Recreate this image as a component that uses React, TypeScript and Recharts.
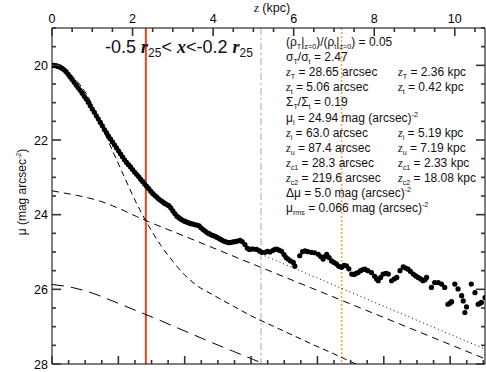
import React from 'react';
import { ComposedChart, XAxis, YAxis, Line, Scatter, ReferenceLine } from 'recharts';

// observed vertical profile: [z (kpc), mu (mag arcsec^-2)]
const profile: [number, number][] = [
  [0.0, 20.0], [0.05, 20.0], [0.1, 20.01], [0.15, 20.03], [0.2, 20.05], [0.25, 20.08], [0.3, 20.12], [0.35, 20.17],
  [0.4, 20.24], [0.45, 20.31], [0.5, 20.38], [0.55, 20.45], [0.6, 20.53], [0.65, 20.6], [0.7, 20.67], [0.75, 20.75],
  [0.8, 20.83], [0.85, 20.9], [0.9, 20.99], [0.95, 21.08], [1.0, 21.17], [1.05, 21.26], [1.1, 21.35], [1.15, 21.44],
  [1.2, 21.53], [1.25, 21.62], [1.3, 21.72], [1.35, 21.8], [1.4, 21.89], [1.45, 21.97], [1.5, 22.05], [1.55, 22.13],
  [1.6, 22.21], [1.65, 22.29], [1.7, 22.37], [1.75, 22.45], [1.8, 22.53], [1.85, 22.6], [1.9, 22.66], [1.95, 22.72],
  [2.0, 22.79], [2.05, 22.86], [2.1, 22.92], [2.15, 22.98], [2.2, 23.05], [2.25, 23.11], [2.3, 23.18], [2.35, 23.24],
  [2.4, 23.3], [2.45, 23.37], [2.5, 23.43], [2.55, 23.48], [2.6, 23.53], [2.65, 23.58], [2.7, 23.62], [2.75, 23.66],
  [2.8, 23.7], [2.85, 23.73], [2.9, 23.76], [2.95, 23.82], [3.0, 23.9], [3.05, 23.97], [3.1, 24.04], [3.15, 24.08],
  [3.2, 24.12], [3.25, 24.15], [3.3, 24.18], [3.35, 24.2], [3.4, 24.22], [3.45, 24.24], [3.5, 24.25], [3.55, 24.27],
  [3.6, 24.28], [3.65, 24.3], [3.7, 24.35], [3.75, 24.4], [3.8, 24.44], [3.85, 24.48], [3.9, 24.51], [3.95, 24.54],
  [4.0, 24.56], [4.05, 24.58], [4.1, 24.61], [4.15, 24.64], [4.2, 24.67], [4.25, 24.7], [4.3, 24.72], [4.35, 24.74],
  [4.4, 24.75], [4.45, 24.74], [4.5, 24.73], [4.55, 24.72], [4.6, 24.71], [4.67, 24.69], [4.72, 24.72], [4.79, 24.8],
  [4.85, 24.9], [4.9, 24.93], [4.95, 24.92], [5.0, 24.92], [5.08, 24.93], [5.15, 24.97], [5.21, 25.01], [5.29, 25.01],
  [5.35, 24.98], [5.41, 25.0], [5.48, 24.96], [5.53, 24.93], [5.58, 24.92], [5.64, 24.95], [5.7, 24.98], [5.76, 25.07],
  [5.81, 25.15], [5.86, 25.19], [5.92, 25.24], [5.99, 25.28], [6.03, 25.38], [6.15, 25.1], [6.22, 24.99], [6.28, 24.97],
  [6.35, 24.99], [6.44, 25.01], [6.52, 25.02], [6.61, 25.06], [6.67, 25.12], [6.73, 25.19], [6.78, 25.12], [6.82, 25.06],
  [6.88, 25.15], [6.94, 25.24], [7.0, 25.28], [7.06, 25.32], [7.12, 25.38], [7.19, 25.41], [7.25, 25.36], [7.31, 25.37],
  [7.37, 25.45], [7.44, 25.59], [7.5, 25.6], [7.55, 25.57], [7.6, 25.55], [7.66, 25.5], [7.72, 25.47], [7.77, 25.46],
  [7.84, 25.5], [7.93, 25.55], [8.01, 25.65], [8.06, 25.72], [8.1, 25.77], [8.16, 25.68], [8.22, 25.59], [8.29, 25.57],
  [8.35, 25.59], [8.43, 25.77], [8.5, 25.72], [8.56, 25.68], [8.64, 25.5], [8.72, 25.4], [8.78, 25.43], [8.84, 25.46],
  [8.9, 25.52], [8.97, 25.59], [9.03, 25.64], [9.09, 25.68], [9.15, 25.72], [9.21, 25.77], [9.26, 25.74], [9.3, 25.68],
  [9.42, 25.95], [9.5, 25.82], [9.59, 25.82], [9.67, 25.86], [9.75, 25.95], [9.83, 26.4], [9.88, 26.37], [9.92, 26.33],
  [10.0, 25.86], [10.08, 25.99], [10.17, 26.17], [10.21, 26.31], [10.25, 26.62], [10.29, 26.47], [10.41, 25.86],
  [10.5, 26.09], [10.58, 26.4], [10.62, 26.38], [10.66, 26.35], [10.75, 26.22],
];

// model components
const steepModel: [number, number][] = [
  [0, 20.05], [0.3, 20.12], [0.6, 20.4], [0.9, 20.85], [1.2, 21.55], [1.5, 22.28], [1.8, 23.0], [2.1, 23.7],
  [2.4, 24.3], [2.7, 24.82], [3.0, 25.25], [3.3, 25.62], [3.6, 25.9], [4.0, 26.15], [4.5, 26.45], [5.0, 26.74],
  [5.5, 26.99], [6.0, 27.24], [6.5, 27.49], [7.0, 27.73], [7.6, 28.03],
];
const thickModel: [number, number][] = [
  [0, 23.36], [0.3, 23.42], [0.6, 23.48], [0.9, 23.55], [1.2, 23.64], [1.5, 23.76], [1.8, 23.9], [2.1, 24.05],
  [2.4, 24.19], [3.0, 24.45], [4.0, 24.89], [5.0, 25.33], [6.0, 25.77], [7.0, 26.21], [8.0, 26.65], [9.0, 27.09],
  [10.0, 27.53], [10.75, 27.86],
];
const faintModel: [number, number][] = [
  [0, 25.87], [0.5, 25.95], [1.0, 26.1], [1.5, 26.31], [2.0, 26.53], [2.5, 26.75], [3.0, 26.98], [3.5, 27.21],
  [4.0, 27.44], [4.5, 27.66], [5.0, 27.88], [5.4, 28.06],
];
const outerFit: [number, number][] = [[5.19, 25.06], [10.75, 27.6]];

const zc1 = 2.33;
const zl = 5.19;
const zu = 7.19;

const kpcTicks = [0, 0.5, 1, 1.5, 2, 2.5, 3, 3.5, 4, 4.5, 5, 5.5, 6, 6.5, 7, 7.5, 8, 8.5, 9, 9.5, 10, 10.5];
const arcsecTicks = [0, 5, 10, 15, 20, 25, 30, 35, 40, 45, 50, 55, 60, 65, 70, 75, 80, 85, 90, 95, 100, 105, 110, 115, 120, 125, 130];
const muTicks = [19, 19.5, 20, 20.5, 21, 21.5, 22, 22.5, 23, 23.5, 24, 24.5, 25, 25.5, 26, 26.5, 27, 27.5, 28];
const kpcPerArcsec = 2.36 / 28.65;

const infoLeft = [
  '(ρ_{T}|_{z=0})/(ρ_{t}|_{z=0}) = 0.05',
  'σ_{T}/σ_{t} = 2.47',
  '*z*_{T} = 28.65 arcsec',
  '*z*_{t} = 5.06 arcsec',
  'Σ_{T}/Σ_{t} = 0.19',
  'μ_{l} = 24.94 mag (arcsec)^{-2}',
  '*z*_{l} = 63.0 arcsec',
  '*z*_{u} = 87.4 arcsec',
  '*z*_{c1} = 28.3 arcsec',
  '*z*_{c2} = 219.6 arcsec',
  'Δμ = 5.0 mag (arcsec)^{-2}',
  'μ_{rms} = 0.066 mag (arcsec)^{-2}',
];
const infoRight = ['', '', '*z*_{T} = 2.36 kpc', '*z*_{t} = 0.42 kpc', '', '', '*z*_{l} = 5.19 kpc', '*z*_{u} = 7.19 kpc',
  '*z*_{c1} = 2.33 kpc', '*z*_{c2} = 18.08 kpc', '', ''];

const SANS = '"Liberation Sans", Arial, sans-serif';
const SERIF = '"Liberation Serif", "Times New Roman", serif';

const toPts = (arr: [number, number][]) => arr.map(([z, mu]) => ({ z, mu }));

const Rich = ({ x, y, src, size = 12, anchor = 'start', transform }: any) => {
  const parts = src.split(/(_\{[^}]*\}|\^\{[^}]*\}|\*[^*]*\*)/).filter((s: string) => s !== '');
  let shift = 0;
  return (
    <text x={x} y={y} fontSize={size} fontFamily={SANS} textAnchor={anchor} transform={transform} fill="#111" style={{ whiteSpace: 'pre' }}>
      {parts.map((p: string, i: number) => {
        let t = p;
        let target = 0;
        let small = false;
        let italic = false;
        if (p.startsWith('_{')) { t = p.slice(2, -1); target = 3; small = true; }
        else if (p.startsWith('^{')) { t = p.slice(2, -1); target = -5; small = true; }
        else if (p.startsWith('*')) { t = p.slice(1, -1); italic = true; }
        const dy = target - shift;
        shift = target;
        return (
          <tspan key={i} dy={dy} fontSize={small ? size * 0.6 : size}
            fontStyle={italic ? 'italic' : undefined} fontFamily={italic ? SERIF : undefined}>{t}</tspan>
        );
      })}
    </text>
  );
};

// inward tick marks drawn as filled rects
const TW = 1.6;
const TC = '#333';

const TopTick = ({ x, y, payload }: any) => {
  const major = payload.value % 2 === 0;
  return (
    <g>
      <rect x={x - TW / 2} y={y} width={TW} height={major ? 8 : 4} fill={TC} />
      {major && <text x={x} y={y - 5} textAnchor="middle" fontSize={12.5} fontFamily={SANS} fill="#000">{payload.value}</text>}
    </g>
  );
};

const BottomTick = ({ x, y, payload }: any) => {
  const major = Math.round(payload.value / kpcPerArcsec) % 20 === 0;
  const h = major ? 8 : 4;
  return <rect x={x - TW / 2} y={y - h} width={TW} height={h} fill={TC} />;
};

const LeftTick = ({ x, y, payload }: any) => {
  const major = payload.value % 2 === 0;
  return (
    <g>
      <rect x={x} y={y - TW / 2} width={major ? 9 : 4} height={TW} fill={TC} />
      {major && <text x={x - 4} y={y + 4.5} textAnchor="end" fontSize={12.5} fontFamily={SANS} fill="#000">{payload.value}</text>}
    </g>
  );
};

const RightTick = ({ x, y, payload }: any) => {
  const major = payload.value % 2 === 0;
  const w = major ? 9 : 4;
  return <rect x={x - w} y={y - TW / 2} width={w} height={TW} fill={TC} />;
};

const Dot = (p: any) => <circle cx={p.cx} cy={p.cy} r={2.6} fill="#000" />;

export default function App() {
  const xDomain = [0, 10.75];
  const yDomain = [19, 28];
  return (
    <div style={{ position: 'absolute', left: 0, top: 0, width: 486, height: 372, background: '#fff' }}>
      <ComposedChart width={486} height={372} margin={{ top: 0, right: 0, bottom: 0, left: 0 }}>
        <XAxis xAxisId="top" orientation="top" type="number" dataKey="z" domain={xDomain} allowDataOverflow
          ticks={kpcTicks} interval={0} height={28} tickSize={0} tickMargin={0} tickLine={false} tick={<TopTick />} stroke="#000" />
        <XAxis xAxisId="bottom" orientation="bottom" type="number" dataKey="z" domain={xDomain} allowDataOverflow
          ticks={arcsecTicks.map((a) => a * kpcPerArcsec)} interval={0} height={8} tickSize={0} tickMargin={0}
          tickLine={false} tick={<BottomTick />} stroke="#000" />
        <YAxis yAxisId="left" orientation="left" type="number" dataKey="mu" domain={yDomain} reversed allowDataOverflow
          ticks={muTicks} interval={0} width={52} tickSize={0} tickMargin={0} tickLine={false} tick={<LeftTick />} stroke="#000" />
        <YAxis yAxisId="right" orientation="right" type="number" dataKey="mu" domain={yDomain} reversed allowDataOverflow
          ticks={muTicks} interval={0} width={1} tickSize={0} tickMargin={0} tickLine={false} tick={<RightTick />} stroke="#000" />

        <ReferenceLine xAxisId="top" yAxisId="left" x={zc1} stroke="#e5451b" strokeWidth={2} />
        <ReferenceLine xAxisId="top" yAxisId="left" x={zl} stroke="#a9a9a9" strokeDasharray="7 3 2 3" />
        <ReferenceLine xAxisId="top" yAxisId="left" x={zu} stroke="#f6a44c" strokeWidth={1.5} strokeDasharray="2 2" />

        <Line xAxisId="top" yAxisId="left" data={toPts(steepModel)} dataKey="mu" type="monotone" stroke="#000"
          strokeWidth={1} strokeDasharray="6 4" dot={false} isAnimationActive={false} />
        <Line xAxisId="top" yAxisId="left" data={toPts(thickModel)} dataKey="mu" type="monotone" stroke="#000"
          strokeWidth={1} strokeDasharray="7 5" dot={false} isAnimationActive={false} />
        <Line xAxisId="top" yAxisId="left" data={toPts(faintModel)} dataKey="mu" type="monotone" stroke="#000"
          strokeWidth={1} strokeDasharray="12 7" dot={false} isAnimationActive={false} />
        <Line xAxisId="top" yAxisId="left" data={toPts(outerFit)} dataKey="mu" type="linear" stroke="#000"
          strokeWidth={1} strokeDasharray="1 3" dot={false} isAnimationActive={false} />

        <Scatter xAxisId="bottom" yAxisId="right" data={toPts(profile)} dataKey="mu" shape={<Dot />} isAnimationActive={false} />
      </ComposedChart>

      <svg width={486} height={372} style={{ position: 'absolute', left: 0, top: 0, pointerEvents: 'none' }}>
        <Rich x={272} y={12} src="*z* (kpc)" size={12.5} anchor="middle" />
        <Rich x={26} y={192} src="μ (mag arcsec^{-2})" size={12} anchor="middle" transform="rotate(-90 26 192)" />
        <text x={105} y={53} fontSize={18} fontFamily={SANS} fill="#111" style={{ whiteSpace: 'pre' }}>
          <tspan>-0.5 </tspan>
          <tspan fontFamily={SERIF} fontStyle="italic" fontWeight="bold">r</tspan>
          <tspan fontSize={12} dy={4}>25</tspan>
          <tspan dy={-4}>{'< '}</tspan>
          <tspan fontFamily={SERIF} fontStyle="italic" fontWeight="bold">x</tspan>
          <tspan>{'<-0.2 '}</tspan>
          <tspan fontFamily={SERIF} fontStyle="italic" fontWeight="bold">r</tspan>
          <tspan fontSize={12} dy={4}>25</tspan>
        </text>
        {infoLeft.map((s, i) => (
          <Rich key={'l' + i} x={286} y={46 + i * 15.1} src={s} size={12} />
        ))}
        {infoRight.map((s, i) => (s ? <Rich key={'r' + i} x={398} y={46 + i * 15.1} src={s} size={12} /> : null))}
      </svg>
    </div>
  );
}
